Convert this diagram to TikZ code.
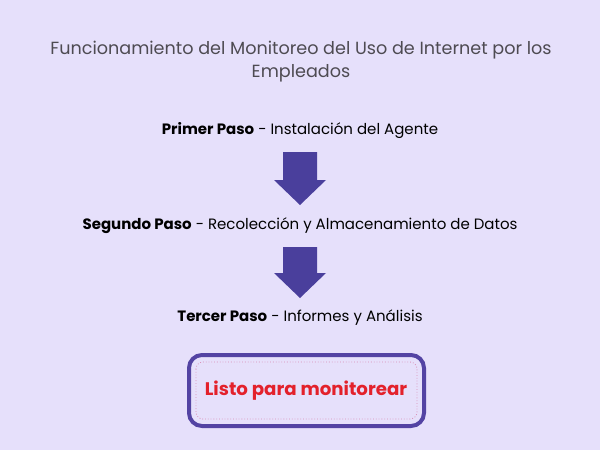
\documentclass[tikz,border=0pt]{standalone}
\usepackage{fontspec}
\setmainfont{Poppins}
\definecolor{bgcol}{HTML}{E6E0FB}
\definecolor{titlecol}{HTML}{4E4B52}
\definecolor{arrowcol}{HTML}{4A3F9C}
\definecolor{boxcol}{HTML}{5343A3}
\definecolor{redtext}{HTML}{E3212B}
\definecolor{dotcol}{HTML}{D98DB5}
\tikzset{
    steptext/.style = {font=\fontsize{15}{17}\selectfont, text=black, inner sep=0pt},
    blockarrow/.style = {fill=arrowcol, draw=none}
}
\begin{document}
\begin{tikzpicture}[x=1pt, y=-1pt]

    \fill[bgcol] (0, 0) rectangle (600, 450);
    \useasboundingbox (0, 0) rectangle (600, 450);

    % title
    \node[text=titlecol, align=center, font=\fontsize{17.6}{23}\selectfont] (title) at (301, 62)
        {Funcionamiento del Monitoreo del Uso de Internet por los\\Empleados};

    % steps
    \node[steptext] (paso1) at (300, 131) {\textbf{Primer Paso} - Instalación del Agente};
    \node[steptext] (paso2) at (300, 226) {\textbf{Segundo Paso} - Recolección y Almacenamiento de Datos};
    \node[steptext] (paso3) at (300, 318) {\textbf{Tercer Paso} - Informes y Análisis};

    % arrows
    \fill[blockarrow] (283, 152) -- (317, 152) -- (317, 180) -- (326, 180) -- (300, 205)
        -- (274, 180) -- (283, 180) -- cycle;
    \fill[blockarrow] (283, 247) -- (317, 247) -- (317, 273) -- (326, 273) -- (300, 298)
        -- (274, 273) -- (283, 273) -- cycle;

    % final box
    \draw[boxcol, line width = 4pt, rounded corners = 13pt] (189, 355) rectangle (424, 426);
    \draw[dotcol, line width = 0.8pt, dotted, rounded corners = 7pt] (196, 362) rectangle (417, 419);
    \node[text=redtext, font=\fontsize{18.2}{20}\selectfont\bfseries] (listo) at (306, 391) {Listo para monitorear};

\end{tikzpicture}
\end{document}
